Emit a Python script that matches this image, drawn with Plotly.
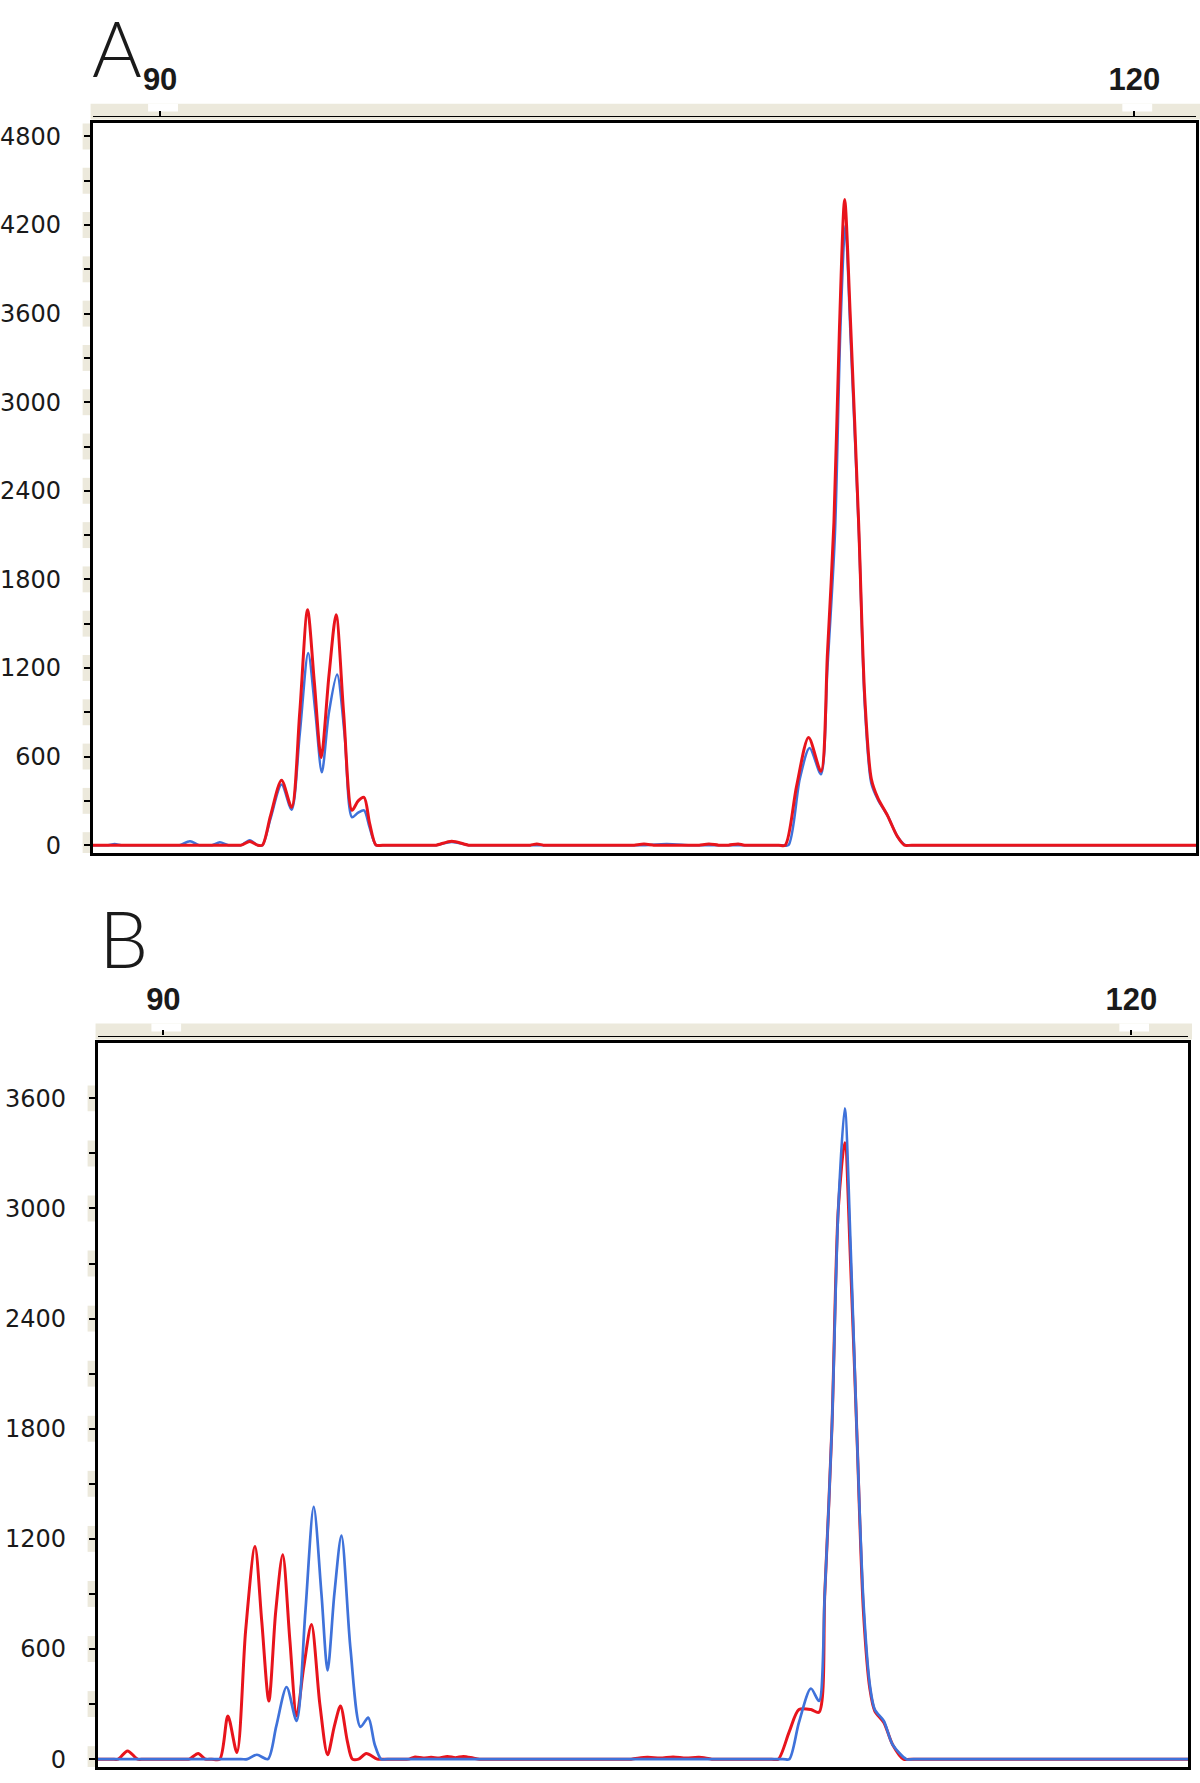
import plotly.graph_objects as go

W, H = 1200, 1783

# ---------------- data ----------------
# Panel A
a_red_x = [87.9, 92.3, 92.5, 92.76, 93.0, 93.15, 93.4, 93.74, 94.05, 94.3, 94.54, 94.75, 94.96, 95.2, 95.42,
           95.65, 95.91, 96.1, 96.28, 96.45, 96.65, 96.85, 98.3, 98.5, 98.98, 99.5, 99.7, 101.3, 101.4, 101.6,
           101.8, 101.9, 104.5, 104.6, 104.9, 105.2, 105.3, 106.5, 106.6, 106.9, 107.2, 107.5, 107.8, 108.0,
           109.05, 109.25, 109.6, 109.97, 110.35, 110.55, 110.75, 110.92, 111.08, 111.25, 111.51, 111.7,
           111.9, 112.1, 112.4, 112.7, 112.92, 113.15, 121.9]
a_red_y = [0, 0, 0, 25, 0, 0, 200, 440, 256, 900, 1595, 1100, 594, 1150, 1561,
           900, 236, 300, 324, 150, 0, 0, 0, 0, 27, 0, 0, 0, 0, 8,
           0, 0, 0, 0, 8, 0, 0, 0, 0, 8, 0, 0, 8, 0,
           0, 0, 400, 729, 500, 1300, 2186, 3500, 4373, 3600, 2186, 1000,
           450, 320, 200, 60, 0, 0, 0]

a_blue_x = [87.9, 88.2, 88.4, 88.6, 88.8, 89.0, 90.4, 90.6, 90.92, 91.2, 91.4, 91.6, 91.84, 92.1, 92.3,
            92.5, 92.76, 93.0, 93.15, 93.4, 93.74, 94.05, 94.3, 94.56, 94.78, 94.98, 95.2, 95.45, 95.68,
            95.91, 96.1, 96.28, 96.45, 96.65, 96.85, 98.3, 98.5, 98.98, 99.5, 99.7, 104.7, 104.9, 105.6,
            106.3, 106.5, 109.15, 109.35, 109.7, 110.0, 110.35, 110.55, 110.78, 110.95, 111.1, 111.27,
            111.52, 111.7, 111.9, 112.1, 112.4, 112.7, 112.95, 113.2, 121.9]
a_blue_y = [0, 0, 0, 8, 0, 0, 0, 0, 27, 0, 0, 0, 20, 0, 0,
            0, 34, 0, 0, 180, 410, 240, 750, 1302, 900, 493, 900, 1156, 750,
            189, 220, 236, 120, 0, 0, 0, 0, 22, 0, 0, 0, 0, 8,
            0, 0, 0, 0, 450, 658, 480, 1200, 2100, 3500, 4197, 3400,
            2100, 950, 420, 310, 200, 60, 0, 0, 0]

# Panel B
b_red_x = [87.96, 88.4, 88.6, 88.89, 89.2, 89.4, 90.6, 90.8, 91.08, 91.3, 91.5, 91.75, 92.0, 92.28, 92.55,
           92.84, 93.05, 93.27, 93.48, 93.70, 93.92, 94.13, 94.35, 94.59, 94.85, 95.09, 95.3, 95.49, 95.7,
           95.86, 96.05, 96.29, 96.63, 96.85, 97.4, 97.6, 97.8, 98.05, 98.3, 98.55, 98.8, 99.05, 99.3,
           99.6, 99.8, 100.0, 104.3, 104.5, 105.0, 105.4, 105.8, 106.2, 106.6, 107.0, 107.2, 108.85,
           109.06, 109.4, 109.7, 110.07, 110.32, 110.5, 110.72, 110.92, 111.12, 111.3, 111.49, 111.7,
           111.9, 112.05, 112.33, 112.6, 112.94, 113.15, 121.76]
b_red_y = [0, 0, 0, 45, 0, 0, 0, 0, 31, 0, 0, 0, 235, 36, 700,
           1159, 750, 317, 800, 1113, 650, 235, 500, 733, 300, 24, 180, 290, 100,
           0, 0, 31, 0, 0, 0, 0, 12, 6, 10, 6, 15, 8, 15,
           6, 0, 0, 0, 0, 10, 6, 12, 6, 10, 0, 0, 0,
           0, 150, 270, 270, 255, 900, 1800, 3000, 3358, 2700, 1800, 800,
           380, 262, 200, 80, 0, 0, 0]

b_blue_x = [87.96, 92.4, 92.6, 92.9, 93.24, 93.5, 93.82, 94.13, 94.4, 94.66, 94.9, 95.09, 95.3, 95.52, 95.8,
            96.11, 96.35, 96.55, 96.75, 96.95, 109.2, 109.40, 109.7, 110.07, 110.32, 110.5, 110.72, 110.92,
            111.12, 111.3, 111.49, 111.7, 111.9, 112.05, 112.33, 112.6, 113.03, 113.25, 121.76]
b_blue_y = [0, 0, 0, 24, 0, 180, 393, 208, 800, 1375, 900, 483, 900, 1218, 600,
            176, 226, 80, 0, 0, 0, 0, 200, 385, 317, 900, 1800, 3000,
            3545, 2800, 1800, 850, 400, 270, 208, 80, 0, 0, 0]

x_ticks = [90, 120]
a_yticks = [0, 600, 1200, 1800, 2400, 3000, 3600, 4200, 4800]
b_yticks = [0, 600, 1200, 1800, 2400, 3000, 3600]

RED = "#E8141C"
BLUE = "#3F72DA"
BEIGE = "#ECE9DC"

def px(x):
    return x / W

def py(y):
    return 1 - y / H

# panel pixel geometry (reference-image pixels)
A = dict(l=87, r=1196, t=123, b=856, ruler=116, xr=[87.92, 121.9], yr=[-54, 4894])
B = dict(l=92, r=1188, t=1047, b=1773, ruler=1039, xr=[87.96, 121.76], yr=[-43, 3899])

fig = go.Figure()

fig.add_trace(go.Scatter(x=a_blue_x, y=a_blue_y, mode="lines", line=dict(color=BLUE, width=2.5, shape="spline", smoothing=0.8),
                         xaxis="x", yaxis="y", showlegend=False))
fig.add_trace(go.Scatter(x=a_red_x, y=a_red_y, mode="lines", line=dict(color=RED, width=3, shape="spline", smoothing=0.8),
                         xaxis="x", yaxis="y", showlegend=False))
fig.add_trace(go.Scatter(x=b_red_x, y=b_red_y, mode="lines", line=dict(color=RED, width=3, shape="spline", smoothing=0.8),
                         xaxis="x2", yaxis="y2", showlegend=False))
fig.add_trace(go.Scatter(x=b_blue_x, y=b_blue_y, mode="lines", line=dict(color=BLUE, width=2.7, shape="spline", smoothing=0.8),
                         xaxis="x2", yaxis="y2", showlegend=False))
# empty traces to attach the ruler axes
fig.add_trace(go.Scatter(x=[], y=[], xaxis="x3", yaxis="y", showlegend=False, hoverinfo="skip"))
fig.add_trace(go.Scatter(x=[], y=[], xaxis="x4", yaxis="y2", showlegend=False, hoverinfo="skip"))

yfont = dict(family="DejaVu Sans", size=24, color="#1a1a1a")
xfont = dict(family="Liberation Sans", size=31, color="#1a1a1a", weight="bold")

def box_x(P, anchor):
    return dict(domain=[px(P["l"]), px(P["r"])], range=P["xr"], anchor=anchor, showline=True, mirror=True,
                linecolor="black", linewidth=2.5, ticks="", showticklabels=False, showgrid=False, zeroline=False)

def box_y(P, anchor, ticks):
    return dict(domain=[py(P["b"]), py(P["t"])], range=P["yr"], anchor=anchor, showline=True, mirror=True,
                linecolor="black", linewidth=2.5, tickmode="array", tickvals=ticks, ticks="outside",
                ticklen=6, tickwidth=2, tickcolor="black", tickfont=yfont, ticklabelstandoff=18,
                minor=dict(dtick=300, tick0=0, ticks="outside", ticklen=6, tickwidth=2, tickcolor="black"),
                showgrid=False, zeroline=False)

def ruler_x(P, over):
    return dict(domain=[px(P["l"]), px(P["r"])], range=P["xr"], overlaying=over, anchor="free",
                position=py(P["ruler"]), side="top", showline=True, linecolor="black", linewidth=1.2,
                tickmode="array", tickvals=x_ticks, ticks="outside", ticklen=5, tickwidth=1.5,
                tickcolor="black", tickfont=xfont, ticklabelstandoff=8, showgrid=False, zeroline=False)

shapes = []
for P in (A, B):
    shapes.append(dict(type="rect", xref="paper", yref="paper", x0=px(P["l"] - 2), x1=min(1, px(P["r"] + 4)),
                       y0=py(P["ruler"] + 4), y1=py(P["ruler"] - 12), fillcolor=BEIGE, line_width=0, layer="below"))
for xa, P in (("x", A), ("x2", B)):
    for t in x_ticks:
        shapes.append(dict(type="rect", xref=xa, yref="paper", x0=t - 0.37, x1=t + 0.55,
                           y0=py(P["ruler"] - 4), y1=py(P["ruler"] - 12), fillcolor="white", line_width=0, layer="below"))
for ya, P, top in (("y", A, 4800), ("y2", B, 3600)):
    ppu = (P["b"] - P["t"]) / (P["yr"][1] - P["yr"][0])
    half = 13 / ppu
    v = 0
    while v <= top + 300:
        if v <= P["yr"][1]:
            shapes.append(dict(type="rect", xref="paper", yref=ya, x0=px(P["l"] - 10), x1=px(P["l"]),
                               y0=max(v - half, P["yr"][0] - 8 / ppu), y1=min(v + half, P["yr"][1]),
                               fillcolor=BEIGE, line_width=0, layer="below"))
        v += 300

fig.update_layout(
    width=W, height=H, margin=dict(l=0, r=0, t=0, b=0),
    paper_bgcolor="white", plot_bgcolor="rgba(0,0,0,0)",
    xaxis=box_x(A, "y"), yaxis=box_y(A, "x", a_yticks),
    xaxis2=box_x(B, "y2"), yaxis2=box_y(B, "x2", b_yticks),
    xaxis3=ruler_x(A, "x"), xaxis4=ruler_x(B, "x2"),
    shapes=shapes,
    annotations=[
        dict(text="A", xref="paper", yref="paper", x=px(112), y=1.0, showarrow=False,
             font=dict(family="Lato", size=76, color="#1a1a1a", weight=300), xanchor="center", yanchor="top"),
        dict(text="B", xref="paper", yref="paper", x=px(118), y=py(941), showarrow=False,
             font=dict(family="Lato", size=78, color="#1a1a1a", weight=300), xanchor="center", yanchor="middle"),
    ],
)

# let the figure fill the page exactly (no default body margin), no mode bar
fig.write_html("out.html", config={"displayModeBar": False},
               post_script="document.body.style.margin='0';document.body.style.overflow='hidden';")
